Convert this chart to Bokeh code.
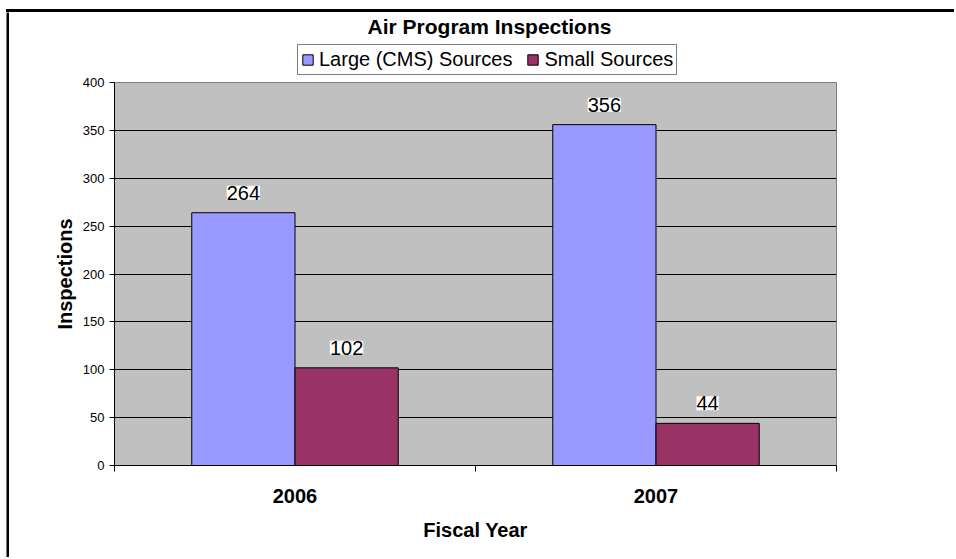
from bokeh.plotting import figure
from bokeh.layouts import column, row
from bokeh.models import (ColumnDataSource, Range1d, FixedTicker, LabelSet, Label,
                          Legend, LegendItem, Div)
from bokeh.core.properties import value
from bokeh.transform import dodge
from bokeh.embed import file_html
from bokeh.resources import INLINE

# ---- data ----
years = ["2006", "2007"]
large = [264, 356]
small = [102, 44]
series_names = ["Large (CMS) Sources", "Small Sources"]
y_ticks = [0, 50, 100, 150, 200, 250, 300, 350, 400]
title_text = "Air Program Inspections"
x_title = "Fiscal Year"
y_title = "Inspections"

FONT = "Liberation Sans"
BLUE = "#9999FF"
PLUM = "#993366"

src = ColumnDataSource(dict(
    xc=[i + 0.5 for i in range(len(years))],
    year=years,
    large=large,
    small=small,
    large_txt=[str(v) for v in large],
    small_txt=[str(v) for v in small],
))
bw = 0.286

# ---- chart border (top and left edges) ----
top_line = Div(text="", width=948, height=3, margin=(9, 0, 0, 6),
               styles={"background-color": "black"})

left_line = figure(width=3, height=545, output_backend="svg", toolbar_location=None,
                   x_range=Range1d(0, 1), y_range=Range1d(0, 1), title=None,
                   x_axis_type=None, y_axis_type=None, min_border=0,
                   margin=(0, 0, 0, 6))
left_line.background_fill_color = "black"
left_line.border_fill_color = "black"
left_line.outline_line_color = None
left_line.grid.visible = False

# ---- header: title + legend (frame is aligned with the plot area below) ----
header = figure(width=936, height=64, output_backend="svg", toolbar_location=None,
                x_range=Range1d(0, 722), y_range=Range1d(0, 64), title=None,
                x_axis_type=None, y_axis_type=None, min_border=0)
header.background_fill_color = "white"
header.border_fill_color = "white"
header.outline_line_color = None
header.grid.visible = False

header.add_layout(Label(x=375, y=50, text=title_text, text_align="center",
                        text_baseline="middle", text_font=FONT, text_font_size="21px",
                        text_font_style="bold", text_color="black"))
# legend swatches share the bar styling; the proxy renderers themselves are hidden
h1 = header.vbar(x="xc", top="large", width=bw, source=src, fill_color=BLUE,
                 line_color="black", visible=False)
h2 = header.vbar(x="xc", top="small", width=bw, source=src, fill_color=PLUM,
                 line_color="black", visible=False)
legend = Legend(items=[LegendItem(label=series_names[0], renderers=[h1]),
                       LegendItem(label=series_names[1], renderers=[h2])],
                orientation="horizontal", location=(183, 1), click_policy="none",
                label_text_font=FONT, label_text_font_size="20px", label_text_color="black",
                glyph_width=13, glyph_height=13, label_standoff=5, spacing=14,
                padding=3, margin=0, border_line_color="black", border_line_width=1,
                background_fill_color="white", background_fill_alpha=1.0,
                inactive_fill_alpha=0.0, label_height=18)
header.add_layout(legend)

# ---- main chart ----
p = figure(width=936, height=481, output_backend="svg", toolbar_location=None,
           title=None,
           x_range=Range1d(0, len(years)), y_range=Range1d(0, max(y_ticks)),
           min_border_left=105, min_border_right=109,
           min_border_top=6, min_border_bottom=92)

p.background_fill_color = "#C0C0C0"
p.border_fill_color = "white"
p.outline_line_color = "#808080"
p.outline_line_width = 1

r1 = p.vbar(x=dodge("xc", -bw / 2), top="large", width=bw, source=src,
            fill_color=BLUE, line_color="black", line_width=1)
r2 = p.vbar(x=dodge("xc", bw / 2), top="small", width=bw, source=src,
            fill_color=PLUM, line_color="black", line_width=1)

for col, txt, off in (("large", "large_txt", -bw / 2), ("small", "small_txt", bw / 2)):
    ls = LabelSet(x=dodge("xc", off), y=col, text=txt, source=src,
                  y_offset=13, text_align="center", text_baseline="bottom",
                  text_font=value(FONT), text_font_size=value("20px"),
                  text_color="black", background_fill_color="white")
    p.add_layout(ls)

# grid
p.xgrid.grid_line_color = None
p.ygrid.ticker = FixedTicker(ticks=y_ticks)
p.ygrid.grid_line_color = "black"
p.ygrid.grid_line_width = 1

# y axis
ya = p.yaxis[0]
ya.ticker = FixedTicker(ticks=y_ticks, minor_ticks=[])
ya.axis_line_color = "black"
ya.major_tick_line_color = "black"
ya.major_tick_out = 5
ya.major_tick_in = 0
ya.major_label_standoff = 5
ya.major_label_text_font = FONT
ya.major_label_text_font_size = "13px"
ya.major_label_text_color = "black"
ya.axis_label = y_title
ya.axis_label_text_font = FONT
ya.axis_label_text_font_size = "20px"
ya.axis_label_text_font_style = "bold"
ya.axis_label_text_color = "black"
ya.axis_label_standoff = 4

# x axis
xa = p.xaxis[0]
xa.ticker = FixedTicker(ticks=[i + 0.5 for i in range(len(years))],
                        minor_ticks=list(range(len(years) + 1)))
xa.major_label_overrides = {i + 0.5: y for i, y in enumerate(years)}
xa.axis_line_color = "black"
xa.major_tick_line_color = None
xa.major_tick_out = 0
xa.major_tick_in = 0
xa.minor_tick_line_color = "black"
xa.minor_tick_out = 6
xa.minor_tick_in = 0
xa.major_label_standoff = 17
xa.major_label_text_font = FONT
xa.major_label_text_font_size = "20px"
xa.major_label_text_font_style = "bold"
xa.major_label_text_color = "black"
xa.axis_label = x_title
xa.axis_label_text_font = FONT
xa.axis_label_text_font_size = "20px"
xa.axis_label_text_font_style = "bold"
xa.axis_label_text_color = "black"
xa.axis_label_standoff = 13

layout = column(top_line, row(left_line, column(header, p)))

open("out.html", "w").write(file_html(layout, INLINE))
